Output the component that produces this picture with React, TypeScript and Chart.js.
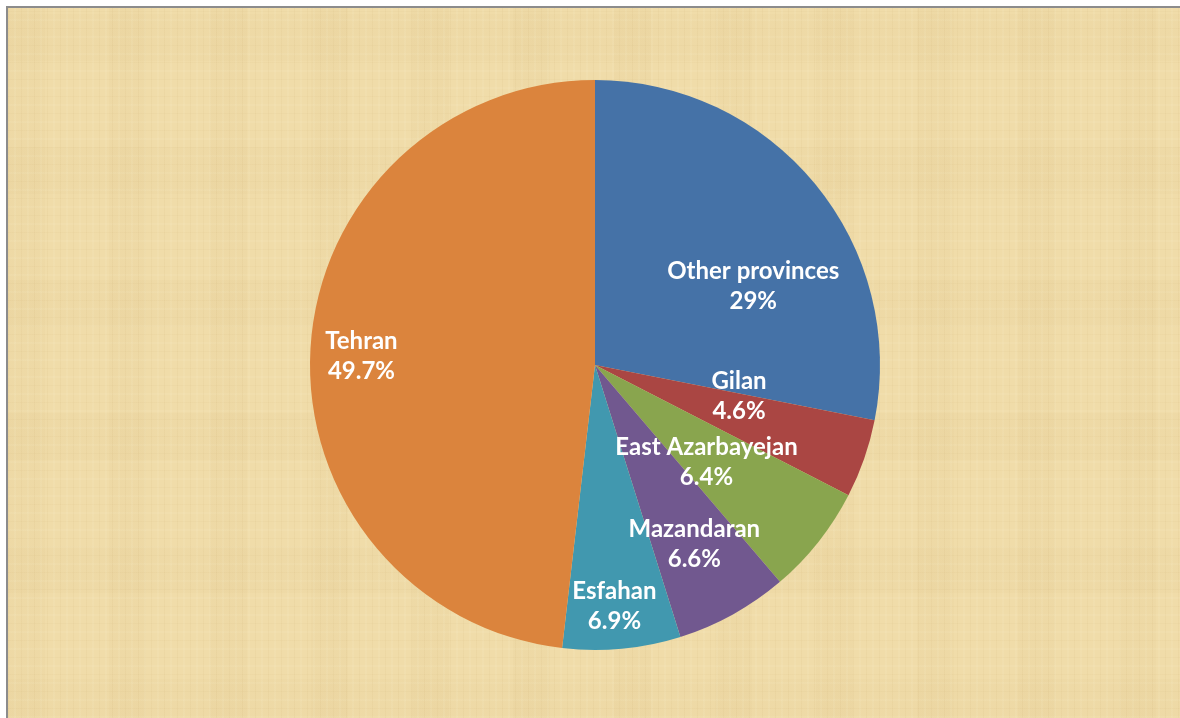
import React, { useEffect, useRef } from "react";
import { Chart, registerables } from "chart.js";

Chart.register(...registerables);

const categories = ["Other provinces", "Gilan", "East Azarbayejan", "Mazandaran", "Esfahan", "Tehran"];
const values = [29, 4.6, 6.4, 6.6, 6.9, 49.7];
const valueLabels = ["29%", "4.6%", "6.4%", "6.6%", "6.9%", "49.7%"];
const colors = ["#4572A7", "#AA4643", "#89A54E", "#71588F", "#4198AF", "#DB843D"];
// label placement: fraction of radius and angle offset (degrees) from slice mid-angle
const labelRadiusFrac = [0.62, 0.517, 0.518, 0.72, 0.85, 0.82];
const labelAngleOffset = [13, -7, 2.6, 0, 0.8, -1.2];

const labelPlugin = {
  id: "sliceLabels",
  afterDatasetsDraw(chart: any) {
    const ctx = chart.ctx;
    const meta = chart.getDatasetMeta(0);
    ctx.save();
    ctx.fillStyle = "#ffffff";
    ctx.font = "bold 24px Lato, 'Open Sans', sans-serif";
    ctx.textAlign = "center";
    ctx.textBaseline = "middle";
    meta.data.forEach((arc: any, i: number) => {
      const p = arc.getProps(["x", "y", "startAngle", "endAngle", "outerRadius"], true);
      const a = (p.startAngle + p.endAngle) / 2 + (labelAngleOffset[i] * Math.PI) / 180;
      const r = p.outerRadius * labelRadiusFrac[i];
      const x = p.x + Math.cos(a) * r;
      const y = p.y + Math.sin(a) * r;
      ctx.fillText(categories[i], x, y - 15);
      ctx.fillText(valueLabels[i], x, y + 15);
    });
    ctx.restore();
  },
};

export default function App() {
  const ref = useRef<HTMLCanvasElement>(null);
  useEffect(() => {
    const chart = new Chart(ref.current!, {
      type: "pie",
      data: {
        labels: categories,
        datasets: [
          {
            data: values,
            backgroundColor: colors,
            borderWidth: 0,
          },
        ],
      },
      options: {
        animation: false,
        responsive: false,
        layout: { padding: { left: 10, right: 0, top: 80, bottom: 68 } },
        plugins: {
          legend: { display: false },
          tooltip: { enabled: false },
        },
      },
      plugins: [labelPlugin],
    });
    return () => chart.destroy();
  }, []);

  const texture =
    "repeating-linear-gradient(90deg, rgba(170,130,60,0.05) 0px, rgba(170,130,60,0.05) 1px, transparent 1px, transparent 6px, rgba(255,250,225,0.08) 6px, rgba(255,250,225,0.08) 8px, transparent 8px, transparent 13px)," +
    "repeating-linear-gradient(0deg, rgba(170,130,60,0.04) 0px, rgba(170,130,60,0.04) 1px, transparent 1px, transparent 8px, rgba(255,250,225,0.07) 8px, rgba(255,250,225,0.07) 10px, transparent 10px, transparent 17px)," +
    "repeating-linear-gradient(90deg, rgba(180,140,70,0.035) 0px, rgba(180,140,70,0.035) 37px, transparent 37px, transparent 101px)," +
    "repeating-linear-gradient(0deg, rgba(180,140,70,0.03) 0px, rgba(180,140,70,0.03) 47px, transparent 47px, transparent 133px)";

  return (
    <div
      style={{
        position: "fixed",
        left: 0,
        top: 0,
        width: 1180,
        height: 718,
        background: "#ffffff",
        overflow: "hidden",
      }}
    >
      <div
        style={{
          position: "absolute",
          left: 6,
          top: 6,
          width: 1180,
          height: 718,
          borderLeft: "2px solid #8c8c8c",
          borderTop: "2px solid #8c8c8c",
          backgroundColor: "#F0DCA9",
          backgroundImage: texture,
        }}
      />
      <canvas
        ref={ref}
        width={1180}
        height={718}
        style={{ position: "absolute", left: 0, top: 0, width: 1180, height: 718 }}
      />
    </div>
  );
}
